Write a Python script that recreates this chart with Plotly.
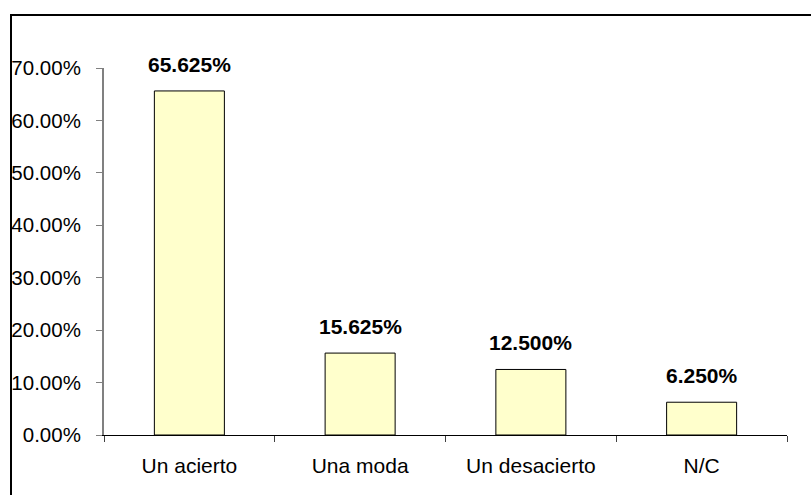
import plotly.graph_objects as go

categories = ["Un acierto", "Una moda", "Un desacierto", "N/C"]
values = [0.65625, 0.15625, 0.125, 0.0625]
labels = ["65.625%", "15.625%", "12.500%", "6.250%"]

W, H = 811, 495
L, R, T, B = 104, 24, 68, 60
pw, ph = W - L - R, H - T - B

def px_x(p):
    return (p - L) / pw

def px_y(p):
    return (H - B - p) / ph

fig = go.Figure()
fig.add_trace(go.Bar(
    x=categories, y=values,
    marker=dict(color="#FFFFCC", line=dict(color="#000000", width=1)),
    hoverinfo="skip",
))

for c, v, t in zip(categories, values, labels):
    fig.add_annotation(x=c, y=v, text="<b>" + t + "</b>", showarrow=False,
                       yanchor="bottom", yshift=13,
                       font=dict(family="Liberation Sans, Arial", size=21, color="#000000"))

fig.add_shape(type="rect", xref="paper", yref="paper",
              x0=px_x(11), x1=px_x(840), y0=px_y(540), y1=px_y(15),
              line=dict(color="#000000", width=2), fillcolor="rgba(0,0,0,0)", layer="below")

fig.update_layout(
    width=W, height=H,
    margin=dict(l=L, r=R, t=T, b=B, pad=0, autoexpand=False),
    paper_bgcolor="white", plot_bgcolor="white",
    bargap=0.59,
    showlegend=False,
    font=dict(family="Liberation Sans, Arial", size=21, color="#000000"),
    xaxis=dict(
        showline=True, linecolor="#000000", linewidth=1,
        ticks="outside", tickson="boundaries", ticklen=6, tickcolor="#404040",
        showgrid=False, zeroline=False, ticklabelstandoff=12, automargin=False,
    ),
    yaxis=dict(
        range=[0, 0.7], dtick=0.1, tickformat=".2%",
        showline=True, linecolor="#808080", linewidth=2,
        ticks="outside", ticklen=6, tickcolor="#808080",
        tickfont=dict(size=20.5),
        showgrid=False, zeroline=False, ticklabelstandoff=11, automargin=False,
    ),
)

fig.write_html(
    "out.html",
    config={"displayModeBar": False, "staticPlot": True},
    post_script="document.body.style.margin='0px';document.body.style.padding='0px';document.body.style.overflow='hidden';",
)
